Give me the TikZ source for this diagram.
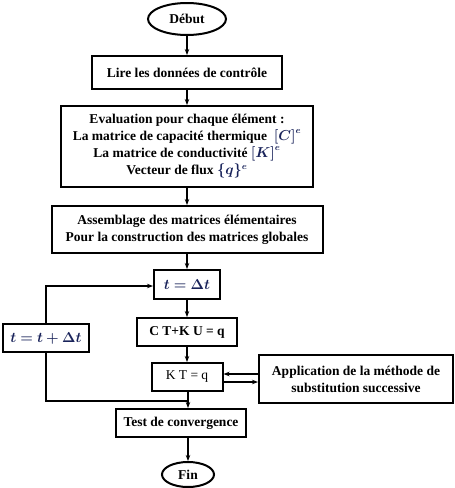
\documentclass[tikz,border=0pt]{standalone}
\usepackage{fontspec}
\setmainfont{Liberation Serif}
\usepackage{amsmath,amssymb,bm}
\usetikzlibrary{shapes.geometric,arrows.meta,calc}
\definecolor{mathblue}{RGB}{25,35,90}
\newcommand{\mth}[1]{\textcolor{mathblue}{$\bm{#1}$}}

\begin{document}
\begin{tikzpicture}[x=1pt,y=-1pt,line width=2pt,>={Stealth[length=6pt,width=4.5pt]},
    boite/.style={draw,rectangle,inner sep=0pt,align=center,font=\bfseries\fontsize{13.5}{17}\selectfont},
    bout/.style={draw,ellipse,inner sep=0pt,font=\bfseries\fontsize{13.5}{15}\selectfont}]
					%\draw[help lines] (0,0) grid (455,488);
					\useasboundingbox (0,0) rectangle (455,488);
					
			          %debut et fin
			          \node[bout,minimum width=78,minimum height=32] (debut) at (187,19) {D\'ebut};
			          \node[bout,minimum width=52,minimum height=25] (fin) at (188,474.5) {Fin};
			          
			          %colonne principale
			          \node[boite,minimum width=190,minimum height=33] (lire) at (187,72.5) {Lire les donn\'ees de contr\^ole};
			          \node[boite,minimum width=252,minimum height=81] (eval) at (187,146.5) {Evaluation pour chaque \'el\'ement :\\
			          La matrice de capacit\'e thermique \ \mth{[C]^e}\\
			          La matrice de conductivit\'e \mth{[K]^e}\\
			          Vecteur de flux \mth{\{q\}^e}};
			          \node[boite,minimum width=271,minimum height=47] (assem) at (187,229.5) {Assemblage des matrices \'el\'ementaires\\
			          Pour la construction des matrices globales};
			          \node[boite,minimum width=66,minimum height=29] (tdt) at (187,284.5) {\mth{t=\Delta t}};
			          \node[boite,minimum width=100,minimum height=28] (ctku) at (187,332) {C T+K U = q};
			          \node[boite,minimum width=71,minimum height=28,font=\fontsize{13.5}{15}\selectfont] (kt) at (187,377) {K T = q};
			          \node[boite,minimum width=130,minimum height=28] (test) at (181,423) {Test de convergence};
			          
			          %boucle et substitution
			          \node[boite,minimum width=86,minimum height=28] (tinc) at (46,338) {\mth{t=t+\Delta t}};
			          \node[boite,minimum width=194,minimum height=48] (appl) at (356,379) {Application de la m\'ethode de\\
			          substitution successive};
			          \coordinate (jonc) at (188,401);
			          
			          %fleches
			          \draw[->] (debut) -- (lire);
			          \draw[->] (lire) -- (eval);
			          \draw[->] (eval) -- (assem);
			          \draw[->] (assem) -- (tdt);
			          \draw[->] (tdt) -- (ctku);
			          \draw[->] (ctku) -- (kt);
			          \draw[->] (kt.south -| jonc) -- (jonc |- test.north);
			          \draw[->] (test.south -| fin) -- (fin);
			          \draw (tinc.south) |- (jonc);
			          \draw[->] (tinc.north) |- ([yshift=-1.5pt]tdt.west);
			          \draw[<-] ([yshift=3pt]kt.east) -- ([yshift=3pt]kt.east -| appl.west);
			          \draw[->] ([yshift=-5pt]kt.east) -- ([yshift=-5pt]kt.east -| appl.west);
				  
	  \end{tikzpicture}
\end{document}
